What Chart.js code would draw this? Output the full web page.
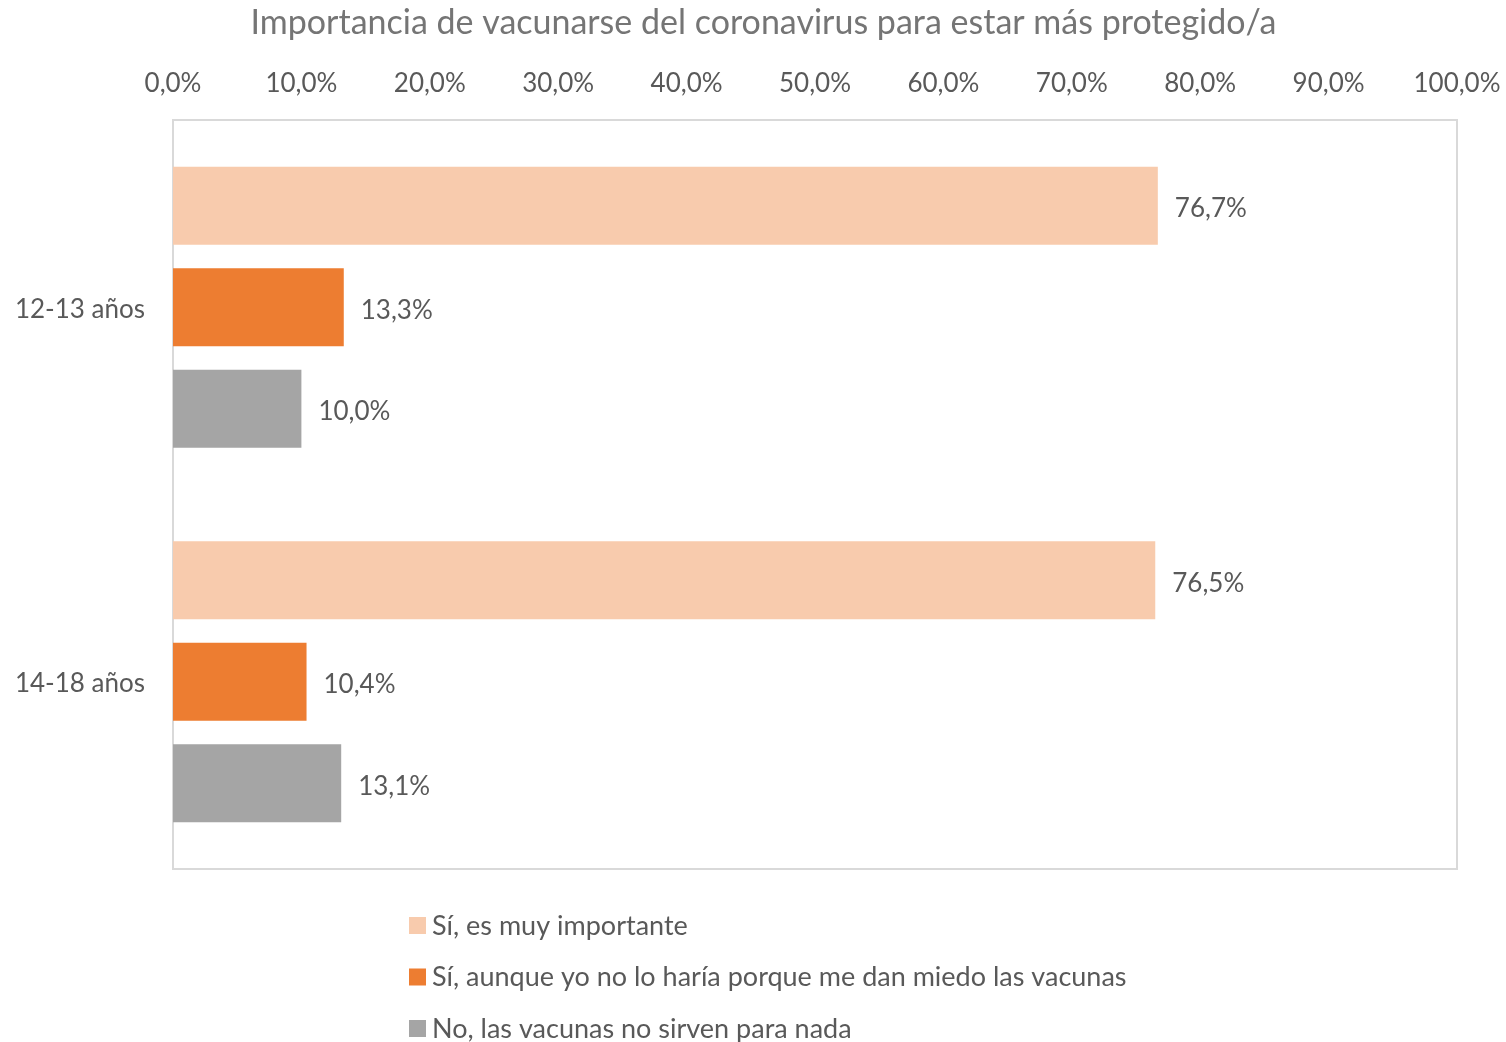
<!DOCTYPE html>
<html>
<head>
<meta charset="utf-8">
<script src="https://cdn.jsdelivr.net/npm/chart.js@4/dist/chart.umd.min.js"></script>
<style>
html,body{margin:0;padding:0;background:#fff;}
#wrap{width:1506px;height:1042px;position:relative;}
</style>
</head>
<body>
<div id="wrap"><canvas id="c" width="1506" height="1042"></canvas></div>
<script>
const chartTitle = 'Importancia de vacunarse del coronavirus para estar más protegido/a';
const categories = ['12-13 años', '14-18 años'];
const seriesNames = [
  'Sí, es muy importante',
  'Sí, aunque yo no lo haría porque me dan miedo las vacunas',
  'No, las vacunas no sirven para nada'
];
const muyImportante = [76.7, 76.5];
const aunqueMiedo = [13.3, 10.4];
const noSirven = [10.0, 13.1];
const seriesColors = ['#F8CBAD', '#ED7D31', '#A5A5A5'];
const xTicks = [0, 10, 20, 30, 40, 50, 60, 70, 80, 90, 100];

const FONT = 'Lato, "Open Sans", sans-serif';
const TXT = '#595959';
const fmt = v => v.toFixed(1).replace('.', ',') + '%';

const frame = {
  id: 'frame',
  beforeDatasetsDraw(chart) {
    const a = chart.chartArea, ctx = chart.ctx;
    ctx.save();
    ctx.strokeStyle = '#D9D9D9';
    ctx.lineWidth = 2;
    ctx.strokeRect(a.left, a.top, a.right - a.left, a.bottom - a.top);
    ctx.restore();
  }
};

const titleText = {
  id: 'titleText',
  afterDraw(chart) {
    const ctx = chart.ctx;
    ctx.save();
    ctx.font = '34px ' + FONT;
    ctx.fillStyle = '#757575';
    ctx.textAlign = 'center';
    ctx.textBaseline = 'middle';
    ctx.fillText(chartTitle, (chart.width + 21) / 2, 23);
    ctx.restore();
  }
};

const valueLabels = {
  id: 'valueLabels',
  afterDatasetsDraw(chart) {
    const ctx = chart.ctx;
    ctx.save();
    ctx.font = '26px ' + FONT;
    ctx.fillStyle = TXT;
    ctx.textAlign = 'left';
    ctx.textBaseline = 'middle';
    chart.data.datasets.forEach((ds, i) => {
      chart.getDatasetMeta(i).data.forEach((el, j) => {
        ctx.fillText(fmt(ds.data[j]), el.x + 17, el.y + 3);
      });
    });
    ctx.restore();
  }
};

const vLegend = {
  id: 'vLegend',
  afterDraw(chart) {
    const ctx = chart.ctx, a = chart.chartArea;
    ctx.save();
    ctx.font = '27px ' + FONT;
    ctx.textBaseline = 'middle';
    ctx.textAlign = 'left';
    chart.data.datasets.forEach((ds, i) => {
      const y = a.bottom + 56 + i * 51.5;
      ctx.fillStyle = ds.backgroundColor;
      ctx.fillRect(409, y - 8, 17, 17);
      ctx.fillStyle = TXT;
      ctx.fillText(ds.label, 432, y + 1);
    });
    ctx.restore();
  }
};

const mk = (i, data) => ({
  label: seriesNames[i],
  data: data,
  backgroundColor: seriesColors[i],
  borderWidth: 0,
  categoryPercentage: 0.813,
  barPercentage: 0.768
});

new Chart(document.getElementById('c'), {
  type: 'bar',
  data: {
    labels: categories,
    datasets: [mk(0, muyImportante), mk(1, aunqueMiedo), mk(2, noSirven)]
  },
  options: {
    indexAxis: 'y',
    responsive: false,
    animation: false,
    layout: { padding: { left: 0, right: 49, top: 44, bottom: 173 } },
    plugins: {
      legend: { display: false },
      tooltip: { enabled: false },
      title: { display: false }
    },
    scales: {
      x: {
        position: 'top',
        min: 0, max: 100,
        afterBuildTicks(scale) { scale.ticks = xTicks.map(v => ({ value: v })); },
        afterFit(scale) { scale.height = 120 - 44; scale.paddingLeft = 0; scale.paddingRight = 0; },
        ticks: {
          color: TXT,
          font: { family: FONT, size: 26 },
          padding: 21,
          maxRotation: 0,
          callback: v => fmt(v)
        },
        grid: { display: false, drawTicks: false },
        border: { display: false }
      },
      y: {
        afterFit(scale) { scale.width = 173; scale.paddingTop = 0; scale.paddingBottom = 0; },
        ticks: {
          color: TXT,
          font: { family: FONT, size: 26 },
          padding: 28,
          labelOffset: 2
        },
        grid: { display: false, drawTicks: false },
        border: { display: false }
      }
    }
  },
  plugins: [frame, titleText, valueLabels, vLegend]
});
</script>
</body>
</html>
